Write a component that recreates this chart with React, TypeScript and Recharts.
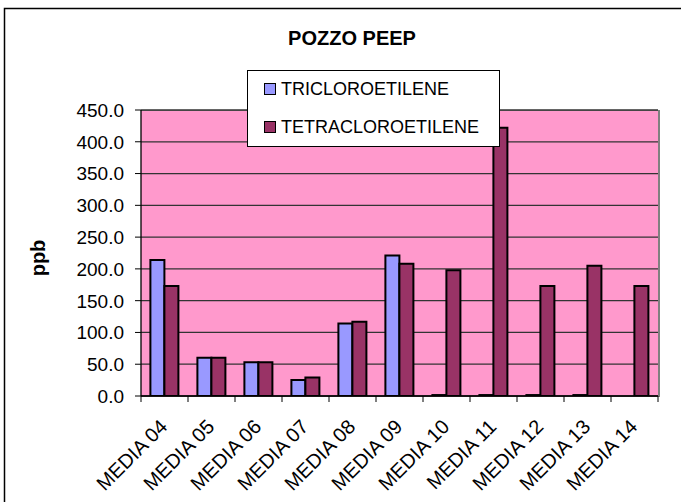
import { Bar, BarChart, CartesianGrid, XAxis, YAxis } from 'recharts';

const categories = [
    'MEDIA 04', 'MEDIA 05', 'MEDIA 06', 'MEDIA 07', 'MEDIA 08', 'MEDIA 09',
    'MEDIA 10', 'MEDIA 11', 'MEDIA 12', 'MEDIA 13', 'MEDIA 14',
];
const tricloroetilene = [214, 60, 53, 25, 114, 221, 1.5, 1.5, 1.5, 1.5, 0];
const tetracloroetilene = [173, 60, 53, 29, 117, 208, 198, 422, 173, 205, 173];
const yTicks = [0, 50, 100, 150, 200, 250, 300, 350, 400, 450];

const data = categories.map((name, i) => ({
    name,
    tri: tricloroetilene[i],
    tetra: tetracloroetilene[i],
}));

const FONT = 'Arial, "Liberation Sans", sans-serif';
const TRI = '#9999FF';
const TETRA = '#993366';

const W = 681;
const H = 502;
const PLOT = { left: 141, top: 110, right: 658, bottom: 396 };
const BAND = (PLOT.right - PLOT.left) / categories.length;

if (typeof document !== 'undefined') {
    document.body.style.margin = '0';
    document.body.style.overflow = 'hidden';
}

function XTick(props: any) {
    const { x, y, payload, index } = props;
    const last = index === categories.length - 1;
    const tx = x + 4;
    const ty = y + 24;
    return (
        <g>
            <line x1={x - BAND / 2} y1={y - 8} x2={x - BAND / 2} y2={y - 2} stroke="#000" />
            {last && <line x1={x + BAND / 2} y1={y - 8} x2={x + BAND / 2} y2={y - 2} stroke="#000" />}
            <text
                x={tx}
                y={ty}
                transform={`rotate(-45 ${tx} ${ty})`}
                textAnchor="end"
                fontSize={20}
                fontFamily={FONT}
                fill="#000"
            >
                {payload.value}
            </text>
        </g>
    );
}

function YTick(props: any) {
    const { x, y, payload } = props;
    return (
        <text x={x - 9} y={y} dy="0.36em" textAnchor="end" fontSize={19} fontFamily={FONT} fill="#000">
            {Number(payload.value).toFixed(1)}
        </text>
    );
}

const legendItems = [
    { label: 'TRICLOROETILENE', color: TRI },
    { label: 'TETRACLOROETILENE', color: TETRA },
];

export default function App() {
    return (
        <div style={{ position: 'relative', width: W, height: H, overflow: 'hidden', background: '#fff' }}>
            <div
                style={{
                    position: 'absolute',
                    left: PLOT.left,
                    top: PLOT.top,
                    width: PLOT.right - PLOT.left,
                    height: PLOT.bottom - PLOT.top,
                    background: '#FF99CC',
                    borderTop: '1px solid #808080',
                    borderRight: '2px solid #808080',
                }}
            />
            <div style={{ position: 'absolute', left: 0, top: 0 }}>
                <BarChart
                    width={W}
                    height={H}
                    data={data}
                    margin={{ top: PLOT.top, right: W - PLOT.right, left: 0, bottom: 0 }}
                    barCategoryGap="20%"
                    barGap={0}
                >
                    <CartesianGrid horizontal vertical={false} stroke="#333" strokeWidth={1.3} />
                    <XAxis
                        dataKey="name"
                        height={H - PLOT.bottom}
                        interval={0}
                        tickLine={false}
                        tick={<XTick />}
                        axisLine={{ stroke: '#000', strokeWidth: 1.3 }}
                    />
                    <YAxis
                        width={PLOT.left}
                        domain={[0, 450]}
                        ticks={yTicks}
                        interval={0}
                        tick={<YTick />}
                        tickSize={6}
                        tickLine={{ stroke: '#000' }}
                        axisLine={{ stroke: '#000', strokeWidth: 1.3 }}
                        allowDataOverflow
                    />
                    <Bar dataKey="tri" name="TRICLOROETILENE" fill={TRI} stroke="#000" strokeWidth={2} isAnimationActive={false} />
                    <Bar dataKey="tetra" name="TETRACLOROETILENE" fill={TETRA} stroke="#000" strokeWidth={2} isAnimationActive={false} />
                </BarChart>
            </div>
            <svg width={W} height={H} style={{ position: 'absolute', left: 0, top: 0, pointerEvents: 'none' }}>
                <path d={`M4.5 ${H} V8.5 H${W}`} fill="none" stroke="#000" strokeWidth={1.5} />
                <text x={352} y={45} textAnchor="middle" fontFamily={FONT} fontWeight="bold" fontSize={20} fill="#000">
                    POZZO PEEP
                </text>
                <text
                    x={45}
                    y={258}
                    transform="rotate(-90 45 258)"
                    textAnchor="middle"
                    fontFamily={FONT}
                    fontWeight="bold"
                    fontSize={20}
                    fill="#000"
                >
                    ppb
                </text>
            </svg>
            <div
                style={{
                    position: 'absolute',
                    left: 247,
                    top: 70,
                    width: 251,
                    height: 75,
                    border: '1px solid #000',
                    background: '#fff',
                    fontFamily: FONT,
                    fontSize: 18,
                }}
            >
                {legendItems.map((it, i) => (
                    <div
                        key={it.label}
                        style={{
                            position: 'absolute',
                            left: 16,
                            top: 7 + i * 38,
                            height: 22,
                            display: 'flex',
                            alignItems: 'center',
                        }}
                    >
                        <span style={{ width: 10, height: 10, background: it.color, border: '1.5px solid #000', marginRight: 5 }} />
                        <span>{it.label}</span>
                    </div>
                ))}
            </div>
        </div>
    );
}
